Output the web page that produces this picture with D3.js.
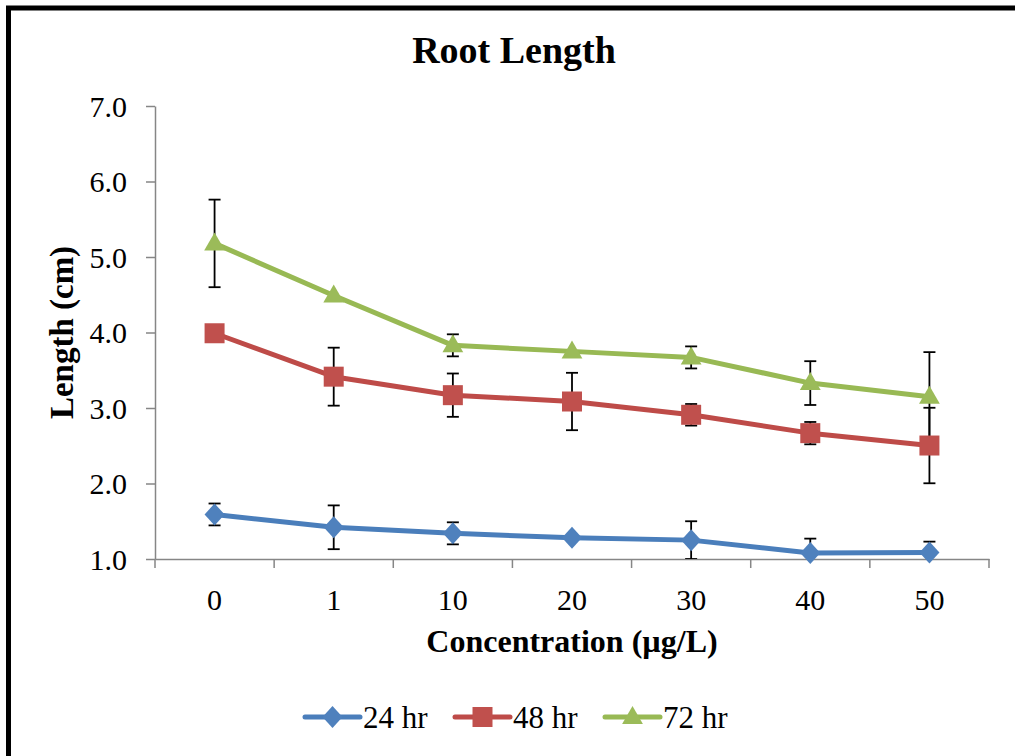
<!DOCTYPE html>
<html><head><meta charset="utf-8">
<script src="https://cdn.jsdelivr.net/npm/d3@7"></script>
<style>
html,body{margin:0;padding:0;background:#fff;}
svg{display:block;}
text{font-family:"Liberation Serif","Times New Roman",serif;fill:#000;}
</style></head>
<body>
<svg id="chart" width="1015" height="756"></svg>
<script>
const categories = ["0","1","10","20","30","40","50"];
const seriesNames = ["24 hr","48 hr","72 hr"];
const values24 = [1.59, 1.42, 1.34, 1.28, 1.25, 1.08, 1.085];
const errors24 = [0.145, 0.29, 0.146, 0, 0.25, 0.19, 0.145];
const values48 = [3.99, 3.415, 3.17, 3.086, 2.91, 2.667, 2.503];
const errors48 = [0, 0.384, 0.287, 0.38, 0.143, 0.148, 0.5];
const values72 = [5.18, 4.49, 3.83, 3.75, 3.67, 3.33, 3.15];
const errors72 = [0.58, 0, 0.146, 0, 0.146, 0.29, 0.59];
const yTicks = [1,2,3,4,5,6,7];
const titleText = "Root Length";
const xTitle = "Concentration (µg/L)";
const yTitle = "Length (cm)";

(function(){
const series = [
  {name: seriesNames[0], values: values24, errors: errors24, line: "#4a7ebb", fill: "#4f81bd", shape: "diamond"},
  {name: seriesNames[1], values: values48, errors: errors48, line: "#be4b48", fill: "#c0504d", shape: "square"},
  {name: seriesNames[2], values: values72, errors: errors72, line: "#98b954", fill: "#9bbb59", shape: "triangle"}
];

const svg = d3.select("#chart");
svg.append("rect").attr("width",1015).attr("height",756).attr("fill","#fff");
svg.append("path").attr("d","M8.5,760 L8.5,8 L1020,8").attr("fill","none").attr("stroke","#000").attr("stroke-width",5);

const pL = 155, pR = 989, pT = 106, pB = 559;
const x = d3.scaleBand().domain(categories).range([pL, pR]).padding(0);
const y = d3.scaleLinear().domain([1,7]).range([pB, pT]);
const axisColor = "#868686";

const yAxis = svg.append("g").attr("transform",`translate(${pL},0)`)
  .call(d3.axisLeft(y).tickValues(yTicks).tickFormat(d3.format(".1f")).tickSize(9).tickPadding(19).tickSizeOuter(0));
yAxis.select(".domain").attr("stroke",axisColor).attr("stroke-width",1.5);
yAxis.selectAll(".tick line").attr("stroke",axisColor).attr("stroke-width",1.5);
yAxis.selectAll(".tick text").attr("font-size",30).attr("font-family","Liberation Serif").attr("fill","#000").attr("dy","0.34em");

const xAxis = svg.append("g").attr("transform",`translate(0,${pB})`)
  .call(d3.axisBottom(x).tickSize(0).tickPadding(30).tickSizeOuter(0));
xAxis.select(".domain").attr("stroke",axisColor).attr("stroke-width",1.5);
xAxis.selectAll(".tick text").attr("font-size",30).attr("font-family","Liberation Serif").attr("fill","#000");
const bounds = d3.range(categories.length+1).map(i => x.range()[0] + i*x.step());
svg.append("g").selectAll("line").data(bounds).join("line")
  .attr("x1",d=>d).attr("x2",d=>d).attr("y1",pB).attr("y2",pB+9)
  .attr("stroke",axisColor).attr("stroke-width",1.5);

svg.append("text").attr("x",514).attr("y",63).attr("text-anchor","middle")
  .attr("font-size",38).attr("font-weight","bold").text(titleText);
svg.append("text").attr("x",(pL+pR)/2).attr("y",652).attr("text-anchor","middle")
  .attr("font-size",32).attr("font-weight","bold").text(xTitle);
svg.append("text").attr("transform",`translate(73,${(pT+pB)/2}) rotate(-90)`).attr("text-anchor","middle")
  .attr("font-size",33).attr("font-weight","bold").text(yTitle);

svg.append("clipPath").attr("id","plotclip").append("rect")
  .attr("x",pL).attr("y",pT-40).attr("width",pR-pL).attr("height",pB-pT+40);

const cx = c => x(c) + x.bandwidth()/2;

function markerPath(shape, s){
  if(shape==="diamond") return `M0,${-s*0.55} L${s*0.5},0 L0,${s*0.55} L${-s*0.5},0 Z`;
  if(shape==="square") return `M${-s/2},${-s/2} H${s/2} V${s/2} H${-s/2} Z`;
  return `M0,${-s*0.55} L${s*0.52},${s*0.35} L${-s*0.52},${s*0.35} Z`;
}

const eb = svg.append("g").attr("clip-path","url(#plotclip)");
series.forEach(s=>{
  categories.forEach((c,i)=>{
    const e = s.errors[i]; if(!e) return;
    const v = s.values[i];
    const yt = y(v+e), yb = y(v-e), xc = cx(c);
    eb.append("line").attr("x1",xc).attr("x2",xc).attr("y1",yt).attr("y2",yb).attr("stroke","#000").attr("stroke-width",1.8);
    eb.append("line").attr("x1",xc-6).attr("x2",xc+6).attr("y1",yt).attr("y2",yt).attr("stroke","#000").attr("stroke-width",1.8);
    eb.append("line").attr("x1",xc-6).attr("x2",xc+6).attr("y1",yb).attr("y2",yb).attr("stroke","#000").attr("stroke-width",1.8);
  });
});

const line = d3.line().x((d,i)=>cx(categories[i])).y(d=>y(d));
series.forEach(s=>{
  svg.append("path").datum(s.values).attr("d",line).attr("fill","none")
    .attr("stroke",s.line).attr("stroke-width",5).attr("stroke-linejoin","round").attr("stroke-linecap","round");
  svg.append("g").selectAll("path").data(s.values).join("path")
    .attr("transform",(d,i)=>`translate(${cx(categories[i])},${y(d)})`)
    .attr("d",markerPath(s.shape,20)).attr("fill",s.fill);
});

const legendX = [305, 455, 605];
series.forEach((s,i)=>{
  const g = svg.append("g").attr("transform",`translate(${legendX[i]},717)`);
  g.append("line").attr("x1",0).attr("x2",55).attr("y1",0).attr("y2",0).attr("stroke",s.line).attr("stroke-width",5).attr("stroke-linecap","round");
  g.append("path").attr("transform","translate(27.5,0)").attr("d",markerPath(s.shape,20)).attr("fill",s.fill);
  g.append("text").attr("x",58).attr("y",0).attr("dy","0.34em").attr("font-size",31).text(s.name);
});
})();
</script>
</body></html>
